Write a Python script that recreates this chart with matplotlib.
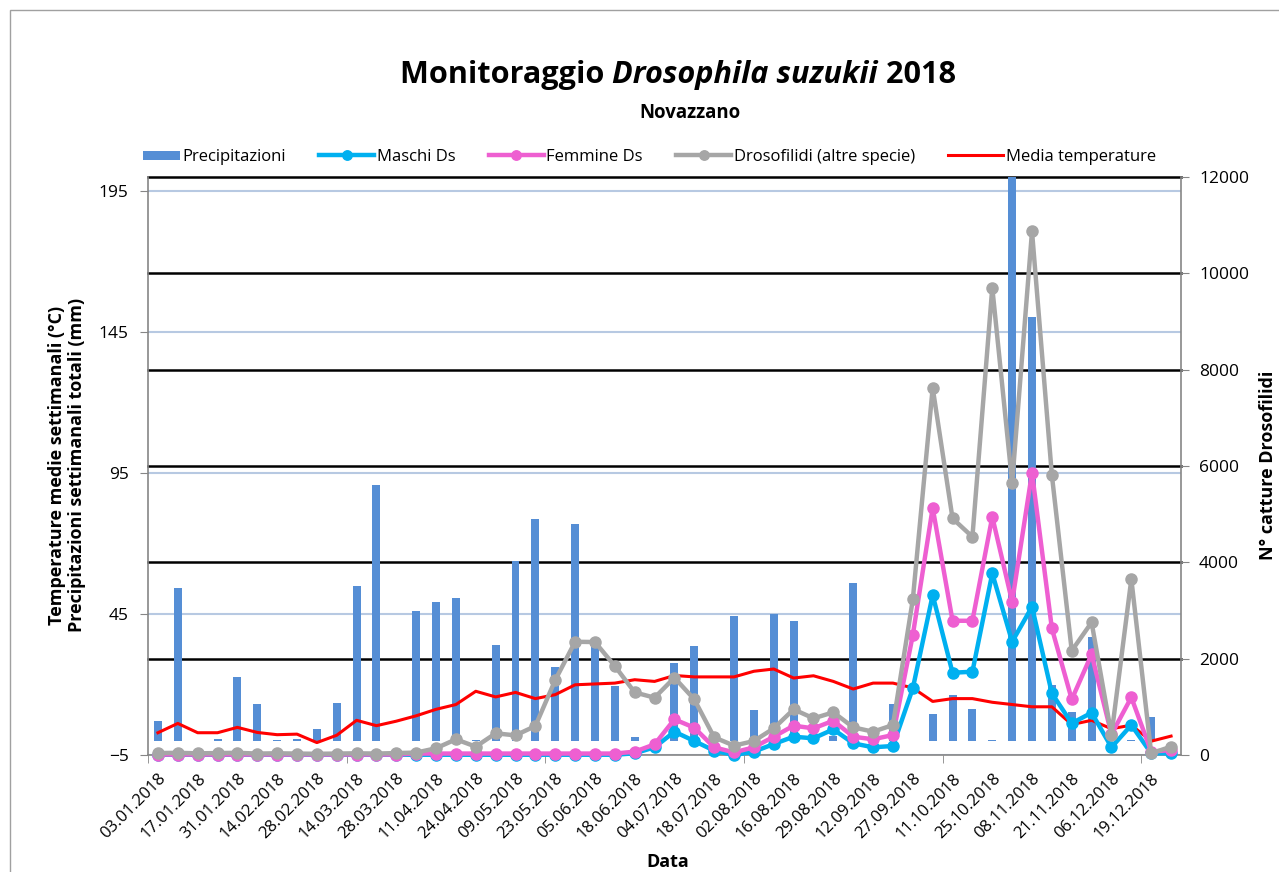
import numpy as np
import matplotlib
matplotlib.use("Agg")
import matplotlib.pyplot as plt
from matplotlib.transforms import blended_transform_factory
from matplotlib.patches import Rectangle
from matplotlib.container import BarContainer
from matplotlib.legend_handler import HandlerPatch, update_from_first_child

plt.rcParams['font.family'] = ['Open Sans', 'DejaVu Sans']

# weekly sampling dates (2018)
dates = ["03.01", "10.01", "17.01", "24.01", "31.01", "07.02", "14.02", "21.02", "28.02",
         "07.03", "14.03", "21.03", "28.03", "04.04", "11.04", "18.04", "24.04", "02.05",
         "09.05", "16.05", "23.05", "30.05", "05.06", "12.06", "18.06", "27.06", "04.07",
         "11.07", "18.07", "25.07", "02.08", "09.08", "16.08", "22.08", "29.08", "05.09",
         "12.09", "19.09", "27.09", "04.10", "11.10", "18.10", "25.10", "31.10", "08.11",
         "14.11", "21.11", "28.11", "06.12", "12.12", "19.12", "27.12"]
dates = [d + ".2018" for d in dates]

# precipitazioni settimanali (mm)
precipitazioni = [7.1, 54.1, 0, 0.5, 22.6, 13.2, 0.3, 0.5, 4.1, 13.5, 55.1, 90.9, 0,
                  46.0, 49.3, 50.7, 0.3, 34.0, 63.8, 78.8, 26.2, 76.9, 34.0, 19.4, 1.4,
                  0, 27.6, 33.5, 0, 44.4, 11.0, 45.1, 42.6, 0, 1.9, 56.1, 0, 13.2, 0,
                  9.7, 16.4, 11.3, 0.3, 201, 150.2, 19.9, 10.3, 36.7, 0, 0.3, 8.6, 0]

# media temperature (°C)
temperatura = [2.9, 6.2, 2.9, 2.9, 4.8, 3.0, 2.2, 2.4, -0.6, 2.0, 7.3, 5.4, 7.0, 8.9,
               11.2, 12.9, 17.6, 15.6, 17.2, 15.0, 16.4, 19.9, 20.2, 20.5, 21.7, 21.1,
               23.2, 22.7, 22.7, 22.7, 24.7, 25.5, 22.3, 23.1, 21.1, 18.4, 20.5, 20.5,
               18.8, 14.0, 15.0, 15.0, 13.7, 12.9, 12.1, 12.1, 5.8, 7.3, 4.3, 5.6, -0.1, 1.7]

# catture
maschi = [5] * 24 + [35, 159, 484, 290, 90, 0, 69, 228, 380, 346, 533, 242, 160, 187,
                     1384, 3320, 1708, 1729, 3770, 2351, 3077, 1280, 658, 878, 160, 622, 35, 35]
femmine = [10] * 13 + [30] * 11 + [69, 221, 740, 567, 159, 55, 159, 380, 609, 553, 712,
                                   380, 326, 415, 2490, 5132, 2787, 2787, 4945, 3182, 5858,
                                   2628, 1155, 2089, 429, 1197, 69, 104]
drosofilidi = [40, 45, 35, 40, 45, 30, 35, 30, 25, 30, 35, 30, 40, 50, 140, 326, 173, 450,
               408, 602, 1556, 2351, 2345, 1847, 1300, 1190, 1605, 1155, 367, 194, 290, 553,
               948, 761, 886, 574, 484, 622, 3230, 7622, 4911, 4530, 9704, 5650, 10873, 5810,
               2165, 2753, 415, 3652, 35, 173]

W, H = 1279, 872
fig = plt.figure(figsize=(W / 100, H / 100), dpi=100)
ax = fig.add_axes([148 / W, 1 - 755 / H, (1181 - 148) / W, (755 - 177) / H])
ax2 = ax.twinx()

x = np.arange(len(dates))

# primary axis: rain bars + temperature
bars = ax.bar(x, precipitazioni, width=0.4, color='#558ed5', zorder=2, label='Precipitazioni')
temp_line, = ax.plot(x, temperatura, color='#ff0000', lw=2.2, zorder=3, label='Media temperature')
ax.grid(axis='y', color='#b7c9e2', lw=1.5)
ax.set_axisbelow(True)

# secondary axis gridlines drawn under the bars
trans = blended_transform_factory(ax.transAxes, ax2.transData)
for v in range(2000, 12001, 2000):
    ax.plot([0, 1], [v, v], transform=trans, color='black', lw=1.8, zorder=1, clip_on=False)

# secondary axis: catches
l_m, = ax2.plot(x, maschi, color='#00b0f0', lw=3.2, marker='o', ms=8, clip_on=False,
                zorder=3, label='Maschi Ds')
l_f, = ax2.plot(x, femmine, color='#ee5fd1', lw=3.2, marker='o', ms=8, clip_on=False,
                zorder=4, label='Femmine Ds')
l_d, = ax2.plot(x, drosofilidi, color='#a6a6a6', lw=3.2, marker='o', ms=8, clip_on=False,
                zorder=5, label='Drosofilidi (altre specie)')

ax.set_xlim(-0.5, len(dates) - 0.5)
ax.set_ylim(-5, 200)
ax.set_yticks([-5, 45, 95, 145, 195])
ax2.set_ylim(0, 12000)
ax2.set_yticks(range(0, 12001, 2000))

# spines and ticks
for a in (ax, ax2):
    for s in a.spines.values():
        s.set_visible(False)
ax.spines['left'].set_visible(True)
ax.spines['bottom'].set_visible(True)
ax2.spines['right'].set_visible(True)
for s in (ax.spines['left'], ax.spines['bottom'], ax2.spines['right']):
    s.set_color('#868686')
    s.set_linewidth(1.2)

ax.set_xticks(x[::2])
ax.set_xticklabels(dates[::2], rotation=45, ha='right', rotation_mode='anchor', fontsize=12)
ax.set_xticks(np.arange(-0.5, len(dates), 10), minor=True)
ax.tick_params(axis='x', which='major', length=0, pad=11)
ax.tick_params(axis='x', which='minor', length=6, color='#868686', direction='out')
ax.tick_params(axis='y', length=6, color='#868686', labelsize=12.5, pad=8)
ax2.tick_params(axis='y', length=6, color='#868686', labelsize=12.5, pad=7)

# labels
fig.text(67 / W, 1 - 465 / H,
         'Temperature medie settimanali (°C)\nPrecipitazioni settimanali totali (mm)',
         rotation=90, ha='center', va='center', multialignment='center',
         fontsize=13, fontweight='bold', linespacing=1.15)
fig.text(1268 / W, 1 - 465 / H, 'N° catture Drosofilidi', rotation=90, ha='center',
         va='center', fontsize=13, fontweight='bold')
fig.text(668 / W, 1 - 862 / H, 'Data', ha='center', va='center', fontsize=13,
         fontweight='bold')

# title with italic species name
parts = [('Monitoraggio ', 'normal'), ('Drosophila suzukii', 'italic'), (' 2018', 'normal')]
texts = [fig.text(0, 1 - 75 / H, s, style=st, fontsize=20, fontweight='bold', va='center')
         for s, st in parts]
sub = fig.text(690 / W, 1 - 113 / H, 'Novazzano', ha='center', va='center', fontsize=14,
               fontweight='bold')


# legend: rain patch narrower than line handles, as in Excel
def rain_patch(legend, orig_handle, xdescent, ydescent, width, height, fontsize):
    return Rectangle((-xdescent + width * 0.33, -ydescent + height * 0.1),
                     width * 0.67, height * 0.75)


handles = [bars, l_m, l_f, l_d, temp_line]
labels = [h.get_label() for h in handles]
leg = ax2.legend(handles, labels, loc='center left', bbox_to_anchor=(125 / W, 1 - 157 / H),
                 bbox_transform=fig.transFigure, ncol=5, frameon=False, fontsize=12,
                 handlelength=3.3, columnspacing=2.0, handletextpad=0.15, borderpad=0,
                 borderaxespad=0, markerscale=0.85,
                 handler_map={BarContainer: HandlerPatch(patch_func=rain_patch,
                                                         update_func=update_from_first_child)})

# outer chart border
fig.patches.append(Rectangle((10 / W, -0.1), 1.5, 1.1 - 10 / H, transform=fig.transFigure,
                             fill=False, edgecolor='#a0a0a0', lw=1))

# fit title / subtitle widths and centre the title pieces
fig.canvas.draw()
r = fig.canvas.get_renderer()
total = sum(t.get_window_extent(r).width for t in texts)
for t in texts:
    t.set_fontsize(20 * 557 / total)
sub.set_fontsize(14 * 102 / sub.get_window_extent(r).width)
fig.canvas.draw()
widths = [t.get_window_extent(r).width for t in texts]
x0 = 678 - sum(widths) / 2
for t, w in zip(texts, widths):
    t.set_x(x0 / W)
    x0 += w

fig.savefig('out.png', dpi=100)
